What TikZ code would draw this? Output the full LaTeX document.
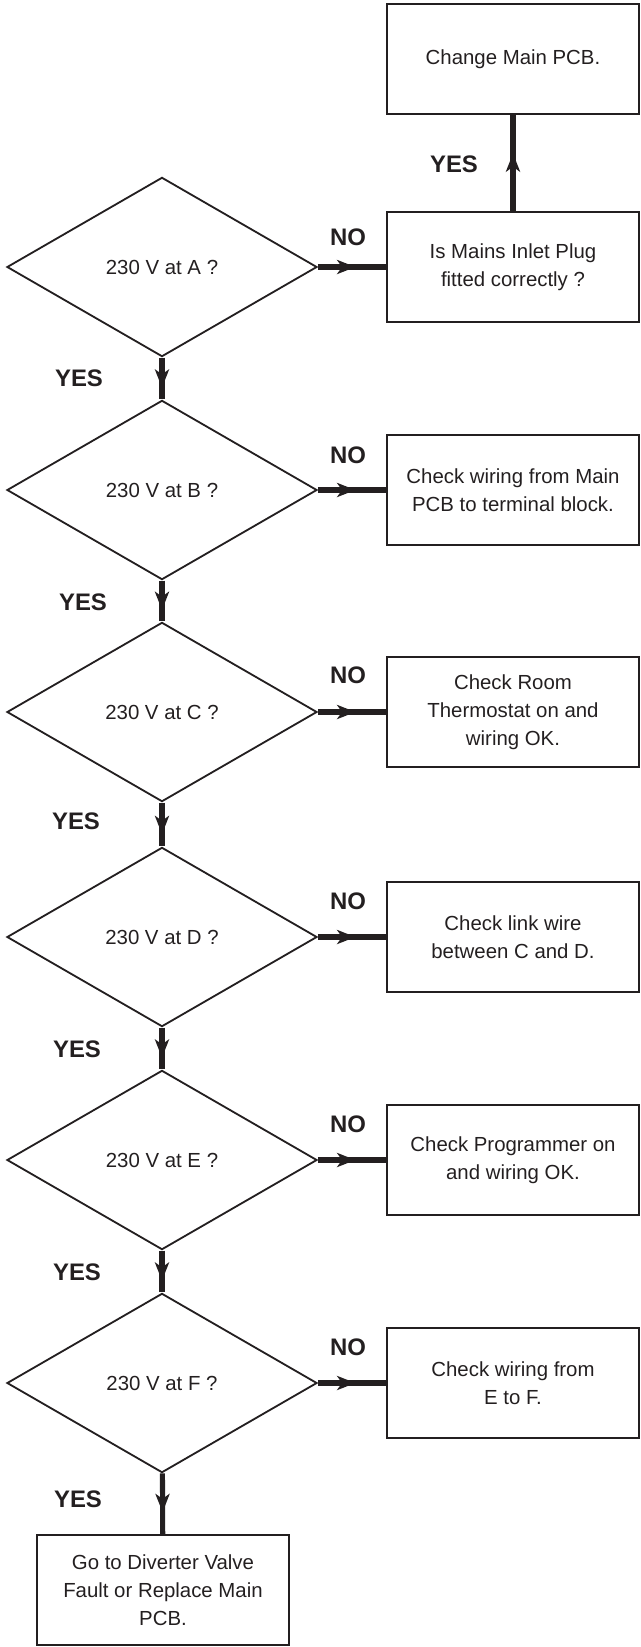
\documentclass[tikz,border=0pt]{standalone}
\usepackage{fontspec}
\setmainfont{Liberation Sans}
\usetikzlibrary{shapes.geometric,arrows.meta,decorations.markings}
\definecolor{inkline}{RGB}{35,31,32}
\tikzset{
  ask/.style={draw=inkline,diamond,line width=1.3pt,inner sep=0pt,minimum width=7.75cm,minimum height=4.48cm,font=\fontsize{14.5}{19}\selectfont,text=inkline},
  act/.style={draw=inkline,rectangle,line width=1.3pt,minimum width=6.3cm,minimum height=2.75cm,align=center,font=\fontsize{14.5}{19.9}\selectfont,text=inkline},
  ans/.style={font=\fontsize{17}{20}\selectfont\bfseries,text=inkline},
  flow/.style={draw=inkline,line width=3.6pt,postaction={decorate},decoration={markings,mark=at position #1 with {\arrow{Stealth[length=13pt,width=10pt,inset=3.5pt]}}}},
  flow/.default=0.72,
}
\begin{document}
\begin{tikzpicture}[x=0.025cm,y=0.025cm]
  \useasboundingbox (0,0) rectangle (640,-1647);
  \node[act] (change) at (513,-59) {Change Main PCB.};
  \node[act] (plug) at (513,-267) {Is Mains Inlet Plug\\fitted correctly ?};
  \node[ask] (atA) at (162,-267) {230 V at A ?};
  \node[act] (wireB) at (513,-490) {Check wiring from Main\\PCB to terminal block.};
  \node[ask] (atB) at (162,-490) {230 V at B ?};
  \node[act] (statC) at (513,-712) {Check Room\\Thermostat on and\\wiring OK.};
  \node[ask] (atC) at (162,-712) {230 V at C ?};
  \node[act] (linkD) at (513,-937) {Check link wire\\between C and D.};
  \node[ask] (atD) at (162,-937) {230 V at D ?};
  \node[act] (progE) at (513,-1160) {Check Programmer on\\and wiring OK.};
  \node[ask] (atE) at (162,-1160) {230 V at E ?};
  \node[act] (wireF) at (513,-1383) {Check wiring from\\E to F.};
  \node[ask] (atF) at (162,-1383) {230 V at F ?};
  \node[act] (divert) at (163,-1590) {Go to Diverter Valve\\Fault or Replace Main\\PCB.};
  \draw[flow=0.6] (plug) -- (change);
  \draw[flow=0.55] (atA) -- (plug);
  \draw[flow=0.55] (atB) -- (wireB);
  \draw[flow=0.55] (atC) -- (statC);
  \draw[flow=0.55] (atD) -- (linkD);
  \draw[flow=0.55] (atE) -- (progE);
  \draw[flow=0.55] (atF) -- (wireF);
  \draw[flow] (atA) -- (atB);
  \draw[flow] (atB) -- (atC);
  \draw[flow] (atC) -- (atD);
  \draw[flow] (atD) -- (atE);
  \draw[flow] (atE) -- (atF);
  \draw[flow=0.64] (atF) -- (divert);
  \node[ans] (yesP) at (454,-164) {YES};
  \node[ans] (noA) at (348,-237) {NO};
  \node[ans] (noB) at (348,-455) {NO};
  \node[ans] (noC) at (348,-675) {NO};
  \node[ans] (noD) at (348,-901) {NO};
  \node[ans] (noE) at (348,-1124) {NO};
  \node[ans] (noF) at (348,-1347) {NO};
  \node[ans] (yesA) at (79,-378) {YES};
  \node[ans] (yesB) at (83,-602) {YES};
  \node[ans] (yesC) at (76,-821) {YES};
  \node[ans] (yesD) at (77,-1049) {YES};
  \node[ans] (yesE) at (77,-1272) {YES};
  \node[ans] (yesF) at (78,-1499) {YES};
\end{tikzpicture}
\end{document}
